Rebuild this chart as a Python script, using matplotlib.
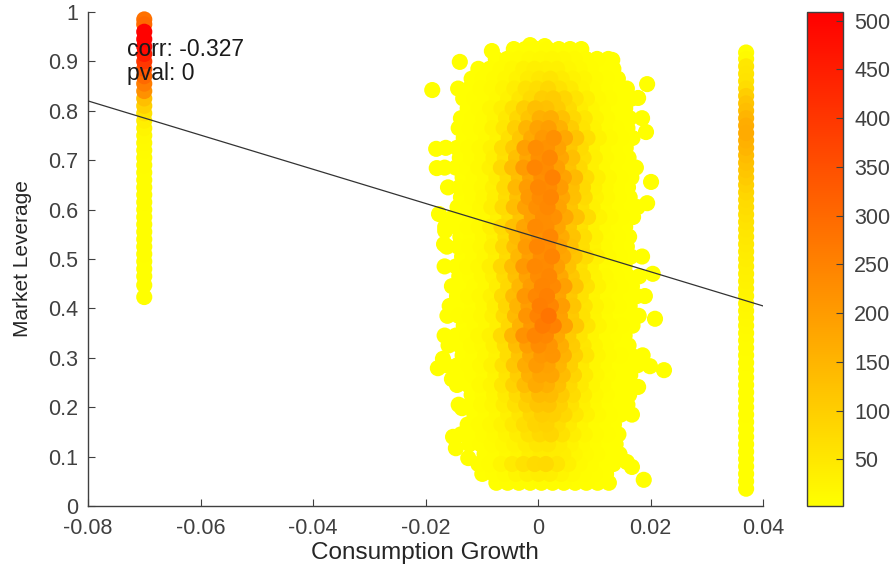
#!/usr/bin/env python3
# -*- coding: utf-8 -*-
"""Density scatter of market leverage against consumption growth"""

import numpy as np
import matplotlib
matplotlib.use('Agg')
import matplotlib.pyplot as plt

plt.rcParams['font.family'] = ['Liberation Sans', 'DejaVu Sans']

# the two isolated years, one column of points each
left_x = -0.07
left_y = [0.423, 0.447, 0.465, 0.48, 0.495, 0.51, 0.525, 0.54, 0.555, 0.57, 0.585, 0.60,
          0.615, 0.63, 0.645, 0.66, 0.675, 0.69, 0.705, 0.72, 0.735, 0.75, 0.765, 0.78,
          0.795, 0.81, 0.825, 0.84, 0.855, 0.87, 0.885, 0.90, 0.915, 0.93, 0.945, 0.96, 0.975, 0.985]
left_c = [3, 3, 3, 3, 3, 4, 4, 4, 4, 5, 5, 5,
          6, 6, 6, 7, 7, 8, 9, 10, 12, 15, 22, 35,
          60, 95, 130, 220, 260, 300, 340, 400, 450, 490, 505, 505, 300, 285]

right_x = 0.037
right_y = [0.035, 0.05, 0.065, 0.08, 0.095, 0.11, 0.125, 0.14, 0.155, 0.17, 0.185, 0.20,
           0.215, 0.23, 0.245, 0.26, 0.275, 0.29, 0.305, 0.32, 0.335, 0.35, 0.365, 0.38,
           0.395, 0.41, 0.425, 0.44, 0.455, 0.47, 0.485, 0.50, 0.515, 0.53, 0.545, 0.56,
           0.575, 0.59, 0.605, 0.62, 0.635, 0.65, 0.665, 0.68, 0.695, 0.71, 0.725, 0.74,
           0.755, 0.77, 0.785, 0.80, 0.815, 0.83, 0.845, 0.86, 0.875, 0.89, 0.905, 0.918]
right_c = [3, 3, 3, 3, 3, 3, 3, 3, 3, 3, 4, 4,
           4, 4, 4, 5, 5, 6, 7, 8, 9, 10, 12, 14,
           16, 18, 20, 24, 28, 30, 32, 36, 40, 44, 48, 52,
           58, 64, 70, 75, 85, 95, 105, 115, 125, 135, 150, 158,
           170, 165, 150, 132, 120, 100, 70, 58, 55, 50, 12, 5]

# main cloud: density by row (top to bottom) and column, 0 = no point
blob_x = np.array([-16, -14, -12, -10, -8, -6, -4, -2, 0, 2, 4, 6, 8, 10, 12, 14, 16, 18]) / 1000
blob_y = [0.925, 0.905, 0.885, 0.865, 0.845, 0.825, 0.805, 0.785, 0.765, 0.745, 0.725, 0.705,
          0.685, 0.665, 0.645, 0.625, 0.605, 0.585, 0.565, 0.545, 0.525, 0.505, 0.485, 0.465,
          0.445, 0.425, 0.405, 0.385, 0.365, 0.345, 0.325, 0.305, 0.285, 0.265, 0.245, 0.225,
          0.205, 0.185, 0.165, 0.145, 0.125, 0.105, 0.085, 0.065, 0.047]
blob_shift = [0.3, 1.1, 0.0, 0.8, 0.4, 1.3, 0.1, 0.9, 0.5, 1.4, 0.2, 0.7, 0.0, 1.2, 0.6, 0.9, 0.3, 1.5, 0.1,
              0.8, 0.4, 1.1, 0.0, 0.6, 1.3, 0.2, 0.9, 0.5, 1.4, 0.0, 0.7, 1.2, 0.3, 1.0, 0.2, 0.8, 0.5, 1.3,
              0.1, 0.9, 0.4, 1.1, 0.0, 0.7, 1.2]
blob_c = np.array([
    [0, 0, 0, 0, 0, 0, 3, 4, 5, 6, 5, 4, 3, 0, 0, 0, 0, 0],
    [0, 0, 0, 0, 3, 6, 8, 12, 14, 16, 14, 10, 6, 4, 3, 0, 0, 0],
    [0, 0, 0, 3, 5, 9, 14, 26, 32, 30, 30, 18, 12, 6, 3, 3, 0, 0],
    [0, 0, 3, 4, 8, 14, 24, 38, 48, 54, 40, 26, 18, 9, 5, 3, 0, 0],
    [0, 3, 3, 6, 11, 21, 36, 60, 68, 80, 60, 44, 22, 10, 5, 3, 3, 0],
    [0, 3, 4, 7, 13, 27, 50, 74, 100, 104, 84, 57, 33, 13, 6, 3, 3, 0],
    [0, 0, 3, 7, 16, 33, 60, 100, 130, 125, 105, 75, 39, 18, 8, 3, 3, 0],
    [0, 3, 5, 9, 19, 45, 80, 118, 160, 165, 125, 80, 51, 21, 8, 3, 3, 0],
    [0, 3, 5, 9, 24, 51, 98, 150, 185, 195, 158, 104, 57, 24, 9, 4, 3, 0],
    [0, 3, 5, 10, 22, 63, 114, 172, 205, 222, 175, 120, 66, 27, 10, 4, 3, 0],
    [3, 3, 6, 12, 27, 69, 107, 192, 228, 218, 188, 114, 75, 26, 10, 5, 3, 0],
    [0, 3, 6, 12, 32, 63, 127, 178, 222, 240, 180, 130, 69, 30, 10, 4, 3, 0],
    [3, 3, 5, 13, 29, 78, 136, 202, 245, 232, 195, 124, 81, 30, 12, 5, 3, 3],
    [0, 3, 6, 13, 34, 72, 130, 188, 226, 252, 186, 140, 72, 33, 13, 5, 3, 0],
    [3, 4, 6, 12, 29, 75, 143, 200, 240, 234, 202, 130, 78, 30, 12, 5, 3, 0],
    [0, 3, 6, 15, 32, 69, 125, 205, 232, 245, 180, 127, 75, 27, 12, 4, 3, 0],
    [0, 3, 5, 12, 35, 75, 133, 190, 225, 238, 188, 120, 66, 30, 10, 5, 3, 3],
    [3, 3, 6, 13, 29, 66, 120, 192, 228, 222, 175, 125, 72, 24, 10, 4, 3, 0],
    [3, 3, 6, 12, 32, 75, 127, 182, 234, 228, 184, 117, 63, 27, 10, 4, 3, 0],
    [0, 3, 5, 13, 27, 69, 140, 190, 218, 240, 170, 122, 69, 28, 9, 4, 3, 0],
    [3, 4, 6, 12, 34, 78, 130, 202, 242, 232, 188, 127, 66, 25, 10, 5, 3, 0],
    [0, 3, 6, 15, 30, 72, 143, 192, 228, 246, 180, 117, 72, 30, 10, 4, 3, 3],
    [3, 3, 6, 12, 32, 81, 133, 205, 238, 234, 195, 125, 63, 27, 9, 4, 3, 0],
    [0, 3, 5, 13, 29, 72, 127, 188, 230, 242, 175, 114, 66, 24, 10, 4, 3, 3],
    [3, 3, 6, 12, 34, 78, 146, 200, 244, 236, 192, 120, 60, 25, 9, 4, 3, 0],
    [0, 3, 6, 13, 27, 75, 136, 208, 240, 255, 185, 112, 63, 22, 9, 4, 3, 3],
    [3, 3, 5, 12, 32, 82, 150, 198, 258, 245, 198, 117, 57, 24, 10, 4, 3, 0],
    [3, 4, 6, 12, 29, 72, 140, 215, 250, 278, 192, 109, 60, 22, 9, 3, 3, 3],
    [0, 3, 6, 13, 30, 81, 156, 208, 265, 252, 187, 114, 54, 21, 9, 4, 3, 0],
    [3, 3, 5, 12, 27, 75, 146, 218, 245, 240, 178, 107, 57, 22, 8, 4, 3, 0],
    [3, 3, 6, 10, 29, 66, 133, 195, 230, 215, 165, 104, 51, 21, 9, 3, 3, 0],
    [0, 3, 5, 12, 24, 69, 120, 178, 208, 212, 156, 96, 54, 18, 8, 4, 3, 3],
    [3, 3, 5, 10, 26, 60, 114, 168, 202, 188, 150, 99, 45, 19, 8, 3, 3, 3],
    [0, 3, 5, 9, 22, 54, 101, 160, 182, 182, 135, 86, 42, 16, 6, 3, 3, 0],
    [0, 3, 3, 10, 21, 51, 91, 134, 170, 160, 130, 78, 45, 18, 8, 3, 3, 0],
    [0, 0, 3, 7, 19, 42, 75, 110, 138, 135, 105, 72, 36, 15, 6, 3, 3, 0],
    [0, 3, 3, 9, 16, 36, 62, 95, 118, 120, 94, 60, 30, 13, 5, 3, 3, 0],
    [0, 0, 3, 6, 14, 30, 52, 82, 100, 96, 80, 50, 27, 10, 5, 3, 3, 0],
    [0, 0, 3, 6, 13, 24, 44, 68, 86, 90, 68, 42, 21, 9, 4, 3, 0, 0],
    [0, 3, 3, 6, 11, 21, 36, 60, 78, 84, 60, 34, 18, 9, 4, 3, 0, 0],
    [0, 0, 3, 4, 8, 15, 24, 38, 50, 52, 38, 24, 12, 6, 3, 3, 0, 0],
    [0, 0, 0, 4, 6, 12, 20, 34, 40, 38, 34, 18, 10, 6, 3, 3, 0, 0],
    [0, 0, 0, 4, 6, 21, 42, 60, 74, 76, 54, 31, 12, 6, 3, 3, 0, 0],
    [0, 0, 0, 3, 4, 9, 21, 30, 36, 34, 22, 13, 7, 4, 3, 0, 0, 0],
    [0, 0, 0, 0, 3, 4, 6, 7, 8, 7, 6, 5, 4, 3, 3, 0, 0, 0],
])

# stray points around the cloud
stray_x = [-0.0188, -0.0181, -0.0180, -0.0176, -0.0165, -0.0167, 0.0194, 0.0178, 0.0185, 0.0192, 0.0201,
           0.0194, 0.0204, 0.0190, 0.0208, 0.0199, 0.0224, 0.0178, 0.0188, 0.0158, 0.0167, -0.0178, -0.0169,
           -0.0153, -0.0135, -0.0151, -0.0146, -0.0124, -0.0082, -0.0139, -0.0014, 0.0012, 0.0132]
stray_y = [0.842, 0.723, 0.684, 0.591, 0.557, 0.530, 0.854, 0.826, 0.785, 0.757, 0.656,
           0.613, 0.470, 0.425, 0.379, 0.283, 0.275, 0.241, 0.053, 0.089, 0.079, 0.279, 0.298,
           0.257, 0.198, 0.140, 0.117, 0.097, 0.921, 0.899, 0.933, 0.931, 0.903]

# fitted line
line_x = [-0.08, 0.04]
line_y = [0.82, 0.405]

cbar_ticks = [50, 100, 150, 200, 250, 300, 350, 400, 450, 500]

W, H = 894, 569
dark = '#404040'

fig = plt.figure(figsize=(W / 100, H / 100), dpi=100)
ax = fig.add_axes([88 / W, 1 - 506 / H, 675 / W, 494 / H])
cax = fig.add_axes([807 / W, 1 - 506 / H, 36 / W, 494 / H])

# collect everything and draw low density first
xs = [left_x] * len(left_y) + [right_x] * len(right_y) + stray_x
ys = list(left_y) + list(right_y) + stray_y
cs = list(left_c) + list(right_c) + [3] * len(stray_x)
for i, row_y in enumerate(blob_y):
    for j, col_x in enumerate(blob_x):
        if blob_c[i, j] > 0:
            xs.append(col_x + (blob_shift[i] - 0.6) / 1000)
            ys.append(row_y)
            cs.append(blob_c[i, j])
order = np.argsort(cs)
xs, ys, cs = np.array(xs)[order], np.array(ys)[order], np.array(cs)[order]

sc = ax.scatter(xs, ys, c=cs, s=135, cmap='autumn_r', vmin=2, vmax=509, linewidths=0, clip_on=False, zorder=2)
ax.plot(line_x, line_y, color='#333333', lw=0.9, zorder=3)

ax.set_xlim(-0.08, 0.04)
ax.set_ylim(0, 1)
ax.set_xticks([-0.08, -0.06, -0.04, -0.02, 0, 0.02, 0.04])
ax.set_xticklabels(['-0.08', '-0.06', '-0.04', '-0.02', '0', '0.02', '0.04'])
ax.set_yticks(np.arange(0, 11) / 10)
ax.set_yticklabels(['0', '0.1', '0.2', '0.3', '0.4', '0.5', '0.6', '0.7', '0.8', '0.9', '1'])
ax.spines['top'].set_visible(False)
ax.spines['right'].set_visible(False)
for side in ['left', 'bottom']:
    ax.spines[side].set_color(dark)
    ax.spines[side].set_linewidth(1.0)
ax.tick_params(direction='in', length=5, width=0.8, color=dark, labelcolor=dark, labelsize=15.5)
ax.tick_params(axis='x', pad=9)
ax.tick_params(axis='y', pad=7)
ax.set_xlabel('Consumption Growth', fontsize=17.5, color='#262626')
ax.xaxis.set_label_coords(0.499, -36 / 494)
ax.set_ylabel('Market Leverage', fontsize=15, color='#262626')
ax.yaxis.set_label_coords(-56 / 675, 0.5)

ax.text(-0.0731, 0.925, 'corr: -0.327', fontsize=16.5, color='#1a1a1a', va='center', zorder=4)
ax.text(-0.0731, 0.875, 'pval: 0', fontsize=16.5, color='#1a1a1a', va='center', zorder=4)

cb = fig.colorbar(sc, cax=cax)
cb.set_ticks(cbar_ticks)
cb.outline.set_edgecolor(dark)
cb.outline.set_linewidth(1.0)
cax.tick_params(direction='in', length=5, width=0.8, color=dark, labelcolor=dark, labelsize=15.5, pad=8)

fig.savefig('out.png', dpi=100)
plt.close(fig)
